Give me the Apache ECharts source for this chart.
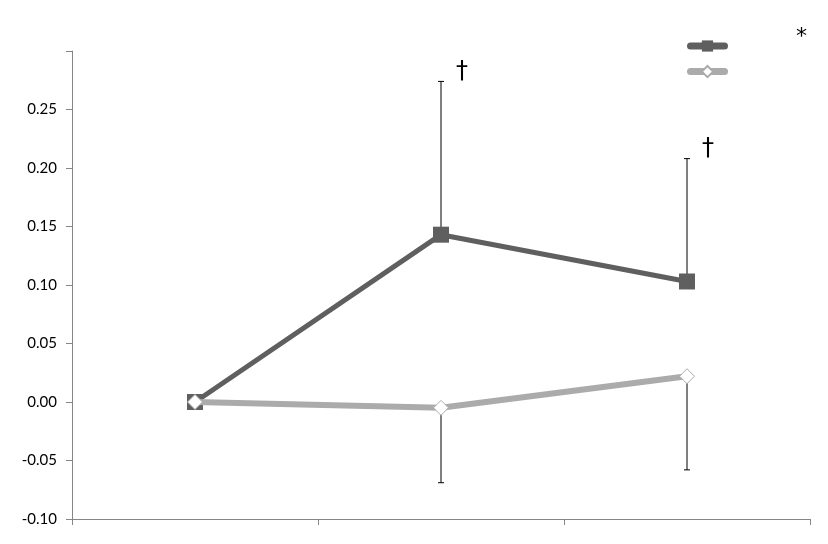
<!DOCTYPE html>
<html>
<head>
<meta charset="utf-8">
<script src="https://cdn.jsdelivr.net/npm/echarts@6/dist/echarts.min.js"></script>
<style>
  html, body { margin: 0; padding: 0; background: #fff; }
  #chart { width: 828px; height: 544px; }
</style>
</head>
<body>
<div id="chart"></div>
<script>
// three time points, labels not shown in the original
const categories = ['T1', 'T2', 'T3'];

// dark series (filled squares), error bars go up
const darkValues = [0, 0.143, 0.103];
const darkErrors = [0, 0.131, 0.105];
const darkMarks = ['', '†', '†'];

// light series (open diamonds), error bars go down
const lightValues = [0, -0.005, 0.022];
const lightErrors = [0, 0.064, 0.080];

const yTicks = { min: -0.10, max: 0.30, step: 0.05 };

const chart = echarts.init(document.getElementById('chart'));

// error bar renderer: stem + small cap at the far end, optional text mark
function errorBar(dir, marks) {
  return function (params, api) {
    const i = api.value(0);
    const v = api.value(1);
    const e = api.value(2);
    if (!e) return null;
    const p0 = api.coord([i, v]);
    const p1 = api.coord([i, v + dir * e]);
    const children = [
      { type: 'line', shape: { x1: p0[0], y1: p0[1], x2: p1[0], y2: p1[1] },
        style: { stroke: '#000', lineWidth: 1 } },
      { type: 'line', shape: { x1: p1[0] - 3, y1: p1[1], x2: p1[0] + 3, y2: p1[1] },
        style: { stroke: '#000', lineWidth: 1 } }
    ];
    if (marks && marks[i]) {
      children.push({
        type: 'text',
        style: {
          x: p1[0] + 21, y: p1[1] - 10, text: marks[i],
          font: '24px "DejaVu Sans"', fill: '#000',
          align: 'center', verticalAlign: 'middle'
        }
      });
    }
    return { type: 'group', children: children };
  };
}

const option = {
  backgroundColor: '#fff',
  animation: false,
  grid: { left: 72, right: 18, top: 51, bottom: 25 },
  legend: {
    left: 682, top: 34,
    orient: 'vertical',
    itemWidth: 34, itemHeight: 14, itemGap: 13,
    formatter: () => '',
    lineStyle: { width: 7, cap: 'round' },
    data: ['A', 'B']
  },
  xAxis: {
    type: 'category',
    data: categories,
    boundaryGap: true,
    axisLine: { onZero: false, lineStyle: { color: '#868686', width: 1 } },
    axisTick: { show: true, length: 6, lineStyle: { color: '#868686' } },
    axisLabel: { show: false },
    splitLine: { show: false }
  },
  yAxis: {
    type: 'value',
    min: yTicks.min, max: yTicks.max, interval: yTicks.step,
    axisLine: { show: true, lineStyle: { color: '#868686', width: 1 } },
    axisTick: { show: true, length: 6, lineStyle: { color: '#868686' } },
    splitLine: { show: false },
    axisLabel: {
      margin: 15,
      color: '#000',
      fontSize: 15,
      fontFamily: 'Lato',
      formatter: v => (Math.abs(v - yTicks.max) < 1e-9 ? '' : v.toFixed(2))
    }
  },
  graphic: [
    { type: 'text', left: 796, top: 26,
      style: { text: '*', font: '22px "DejaVu Sans"', fill: '#000' } }
  ],
  series: [
    {
      type: 'custom',
      z: 1,
      renderItem: errorBar(1, darkMarks),
      data: darkValues.map((v, i) => [i, v, darkErrors[i]])
    },
    {
      type: 'custom',
      z: 1,
      renderItem: errorBar(-1, null),
      data: lightValues.map((v, i) => [i, v, lightErrors[i]])
    },
    {
      name: 'A',
      type: 'line',
      z: 3,
      data: darkValues,
      symbol: 'rect',
      symbolSize: 16,
      lineStyle: { color: '#5f5f5f', width: 5 },
      itemStyle: { color: '#5f5f5f', borderColor: '#5f5f5f', borderWidth: 0 }
    },
    {
      name: 'B',
      type: 'line',
      z: 4,
      data: lightValues,
      symbol: 'diamond',
      symbolSize: 15,
      lineStyle: { color: '#ababab', width: 6 },
      itemStyle: { color: '#fff', borderColor: '#ababab', borderWidth: 1 }
    }
  ]
};

chart.setOption(option);
</script>
</body>
</html>
